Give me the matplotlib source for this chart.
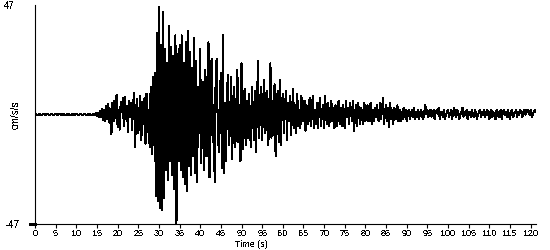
import numpy as np
import matplotlib
matplotlib.use("Agg")
import matplotlib.pyplot as plt

# Registro de aceleracion (cm/s/s)
y_max = 47
t_quiet_step = 0.5    # s, tramo previo al evento (0-14 s)
t_main_start = 14.0   # s
t_main_step = 0.25    # s

quiet_vals = [0.3, -0.3, 0.2, -0.4, 0.3, -0.2, 0.4, -0.3, 0.2, -0.3, 0.3, -0.2, 0.4, -0.3,
              0.2, -0.4, 0.3, -0.3, 0.2, -0.3, 0.4, -0.2, 0.3, -0.3, 0.2, -0.4, 0.3, -0.2]

main_vals = [
    # 14 - 19 s
    0, 0.3, -0.4, 0.6, -0.5, 0.8, -1.2, 1.5, -1.0, 2.2, -2.5, 1.8, -3.0, 3.5, -2.0, 4.5, -3.5, 2.5, -8.5, 5.0,
    # 19 - 24 s
    -3.0, 6.0, -1.5, 8.5, -5.5, 2.0, -6.5, 5.5, 1.0, 7.0, -5.0, 7.7, -2.0, 3.5, -7.5, 6.0, -1.0, 5.0, -6.5, 4.0,
    # 24 - 29 s
    9.4, -14.0, 3.0, 6.5, -8.0, -2.0, 8.0, -11.0, 5.5, -4.0, 7.0, -12.5, 9.0, -7.5, 2.0, -14.0, 12.0, -17.0, 16.0, -13.0,
    # 29 - 34 s
    18, -35, 35, -37, 46, -40, 30, -41, 44, -36, 28, -24, 22, -28, 38, -20, 29, -26, 25, -32,
    # 34 - 39 s
    34, -47, 26, -20, 30, -24, 34, -27, 22, -30, 31, -33, 36, -22, 27, -26, 20, -18, 33, -25,
    # 39 - 44 s
    23, -29, 12, -8, 28, -21, 6, 14, -24, 19, -5, -18, 31, -27, 9, 24, -12, 4, -29, 20,
    # 44 - 49 s
    24, -6, -16, 8, 18, -23, 34, -25, 5, -20, 11, 17, -13, -3, 16, -19, 7, 12, -14, 3,
    # 49 - 54 s
    19, -12, 4, -20, 22, -15, 3, 11, -13, 6, -10, 9, -4, -14, 12, 2, -11, 10, -16, 5,
    # 54 - 59 s
    23, -10, 3, 12, -11, 6, 15, -8, -2, 10, -13, 4, 22, -10, 6, -9, 13, -18, 2, 10,
    # 59 - 64 s
    -12, 15, -13, 3, 9, -8, 2, 10, -11, 5, -3, 8, -9, 2, 11, -6, 4, -8, 9, -5,
    # 64 - 69 s
    2, -6, 8, -3, 1, 6, -7, 4, -4, 3, 7, -5, 1, 8, -6, 2, -4, 5, -6, 3,
    # 69 - 74 s
    7, -5, 1, 4, -6, 8, -2, -4, 5, -5, 2, 6, -3, 3, -6, 4, -5, 1, 6, -4,
    # 74 - 79 s
    3, -5, 4, -2, -6, 6, -1, 3, -4, 5, 2, -3, 6, -7, 1, 4, -5, 5, -1, -4,
    # 79 - 84 s
    3, -1, -4, 5, -3, 2, 4, -3, 1, 5, -4, 2, -3, 3, -1, 4, -2, -3, 5, -2,
    # 84 - 89 s
    2, 7, -4, 1, 4, -3, 3, -5.5, 5, -2, 2, -4, 3, 1, -2, 4, -3, 2, -3, 1,
    # 89 - 94 s
    -2, 3, -1, 2, -3, 1, 2, -2, 0, 2, -1, 3, -2, 1, -1, 2, -2, 1, 2, -1,
    # 94 - 99 s
    -2, 1, 4, 0, 2, -1, 1, 2, -1, 0, 2, -2, 1, 2, 0, 3, -2, 1, 1, -1,
    # 99 - 104 s
    2, -2, 0, 1, 2, -1, 0, 2, -2, 1, 3, 0, -1, 2, 1, -2, 0, 1, 3, -1,
    # 104 - 109 s
    1, 0, 2, -2, 1, 1, -1, 2, 0, -1, 2, 1, -2, 0, 1, 2, -1, 1, 0, 2,
    # 109 - 114 s
    -1, 1, 2, 0, -2, 1, 2, -1, 1, 0, -2, 2, 1, -1, 0, 2, -2, 1, 2, 0,
    # 114 - 119 s
    1, -1, 2, 0, -2, 1, 2, -1, 0, 1, 2, -1, 1, 0, 2, 1, -1, 1, 2, 0,
    # 119 - 121.25 s
    1, 2, 1, 0, 2, -1, 0, 1, 2, 1,
]

x_ticks = list(range(0, 121, 5))

t_quiet = t_quiet_step * np.arange(len(quiet_vals))
t_main = t_main_start + t_main_step * np.arange(len(main_vals))
t = np.concatenate([t_quiet, t_main])
acc = np.concatenate([quiet_vals, main_vals])

plt.rcParams['font.family'] = ['Liberation Sans', 'DejaVu Sans']
plt.rcParams['font.size'] = 7
plt.rcParams['text.antialiased'] = False

fig = plt.figure(figsize=(5.5, 2.5), dpi=100)
ax = fig.add_axes([35 / 550, 26 / 250, 501 / 550, 219 / 250])

ax.plot(t, acc, color='black', lw=0.75, antialiased=False)

ax.set_xlim(0, 121.3)
ax.set_ylim(-y_max, y_max)
ax.spines['top'].set_visible(False)
ax.spines['right'].set_visible(False)
ax.spines['left'].set_linewidth(0.8)
ax.spines['bottom'].set_linewidth(0.8)

ax.set_xticks(x_ticks)
ax.set_xticklabels([str(v) for v in x_ticks])
ax.tick_params(axis='x', direction='out', length=3, width=0.8, pad=0.8, labelsize=6.5)
ax.set_yticks([])

# el eje x sobresale un poco a la izquierda
ax.plot([-1.2, 0], [-y_max, -y_max], color='black', lw=0.8, clip_on=False, antialiased=False)

fig.text(15 / 550, 1 - 6 / 250, str(y_max), ha='right', va='center', fontsize=7)
fig.text(20 / 550, 1 - 224.5 / 250, str(-y_max), ha='right', va='center', fontsize=7)
fig.text(16 / 550, 1 - 115 / 250, 'cm/s/s', rotation=90, ha='center', va='center', fontsize=7)
fig.text(251 / 550, 1 / 250, 'Time (s)', ha='center', va='bottom', fontsize=6.5)

fig.savefig('out.png', dpi=100)
